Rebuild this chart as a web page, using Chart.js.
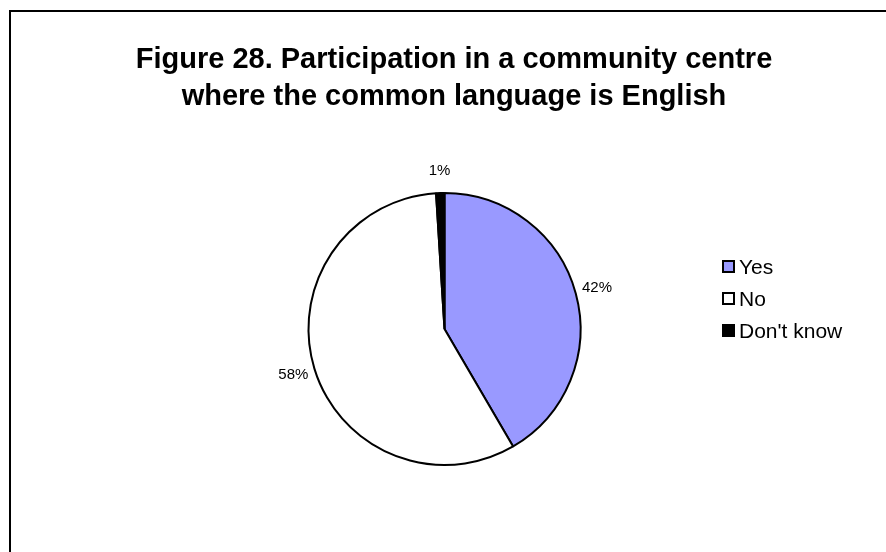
<!DOCTYPE html>
<html>
<head>
<script src="https://cdn.jsdelivr.net/npm/chart.js@4"></script>
<style>
  html, body { margin: 0; padding: 0; overflow: hidden; background: #fff; }
  #frame { position: absolute; left: 9px; top: 10px; width: 900px; height: 560px; border: 2px solid #000; }
  #chart { position: absolute; left: 0; top: 0; }
</style>
</head>
<body>
<div id="frame"></div>
<canvas id="chart" width="886" height="552"></canvas>
<script>
const titleLines = ['Figure 28. Participation in a community centre', 'where the common language is English'];
const categories = ['Yes', 'No', "Don't know"];
const percentages = [42, 58, 1];
const sliceColors = ['#9999ff', '#ffffff', '#000000'];

const FONT = '"Liberation Sans", Arial, sans-serif';

// title, percentage labels and the legend on the right
const figureText = {
  id: 'figureText',
  afterDraw(chart) {
    const ctx = chart.ctx;
    ctx.save();
    ctx.fillStyle = '#000';
    ctx.textAlign = 'center';
    ctx.textBaseline = 'middle';

    ctx.font = 'bold 29px ' + FONT;
    titleLines.forEach((line, i) => ctx.fillText(line, 454, 60 + i * 37));

    ctx.font = '15px ' + FONT;
    chart.getDatasetMeta(0).data.forEach((arc, i) => {
      const mid = (arc.startAngle + arc.endAngle) / 2;
      const r = arc.outerRadius + 22;
      ctx.fillText(percentages[i] + '%', arc.x + Math.cos(mid) * r, arc.y + Math.sin(mid) * r);
    });

    ctx.textAlign = 'left';
    ctx.font = '21px ' + FONT;
    categories.forEach((name, i) => {
      const y = 267 + i * 32;
      ctx.fillStyle = sliceColors[i];
      ctx.fillRect(723, y - 6, 11, 11);
      ctx.strokeStyle = '#000';
      ctx.lineWidth = 2;
      ctx.strokeRect(723, y - 6, 11, 11);
      ctx.fillStyle = '#000';
      ctx.fillText(name, 739, y + 1);
    });
    ctx.restore();
  }
};

new Chart(document.getElementById('chart'), {
  type: 'pie',
  data: {
    labels: categories,
    datasets: [{
      data: percentages,
      backgroundColor: sliceColors,
      borderColor: '#000',
      borderWidth: 2
    }]
  },
  options: {
    responsive: false,
    animation: false,
    radius: 136,
    layout: { padding: { left: 300, right: 297, top: 192, bottom: 86 } },
    plugins: {
      legend: { display: false },
      tooltip: { enabled: false }
    }
  },
  plugins: [figureText]
});
</script>
</body>
</html>
